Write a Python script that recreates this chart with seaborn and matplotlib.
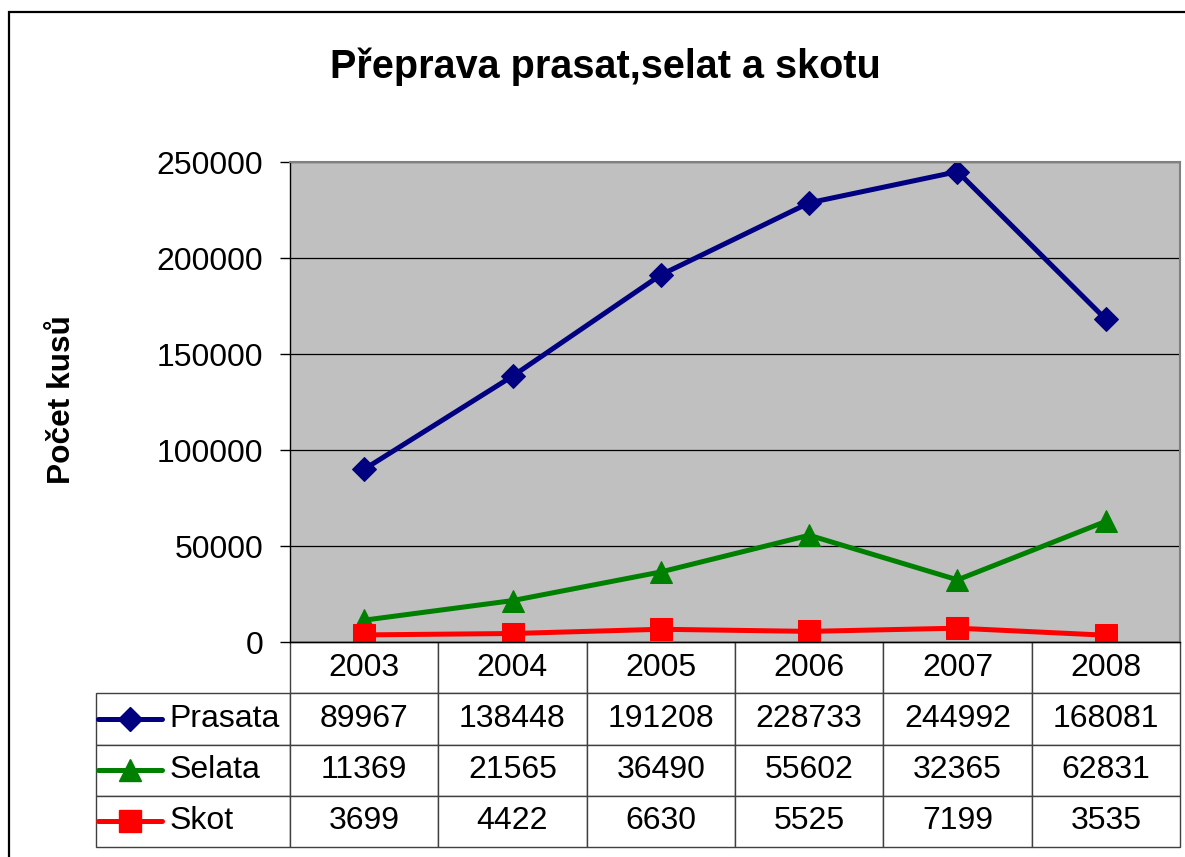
import numpy as np
import pandas as pd
import matplotlib
matplotlib.use('Agg')
import matplotlib.pyplot as plt
from matplotlib.lines import Line2D
from matplotlib.patches import Rectangle
import seaborn as sns

# data
years = ['2003', '2004', '2005', '2006', '2007', '2008']
series_names = ['Prasata', 'Selata', 'Skot']
prasata = [89967, 138448, 191208, 228733, 244992, 168081]
selata = [11369, 21565, 36490, 55602, 32365, 62831]
skot = [3699, 4422, 6630, 5525, 7199, 3535]

colors = {'Prasata': '#000080', 'Selata': '#008000', 'Skot': '#FF0000'}
markers = {'Prasata': 'D', 'Selata': '^', 'Skot': 's'}
msizes = {'Prasata': 12.5, 'Selata': 16, 'Skot': 16.5}

sns.set_style('white')
plt.rcParams['font.family'] = ['Liberation Sans', 'DejaVu Sans']
plt.rcParams['text.color'] = 'black'
plt.rcParams['ytick.color'] = 'black'
plt.rcParams['xtick.color'] = 'black'

rows = []
for name, vals in zip(series_names, [prasata, selata, skot]):
    for i, v in enumerate(vals):
        rows.append({'idx': i, 'value': v, 'series': name})
df = pd.DataFrame(rows)

W, H = 1185, 857
fig = plt.figure(figsize=(W / 100, H / 100), dpi=100)
ax = fig.add_axes([290 / W, 1 - 642 / H, 890 / W, 480 / H])
ax.set_facecolor('#C0C0C0')

for name in series_names:
    sub = df[df['series'] == name]
    sns.lineplot(data=sub, x='idx', y='value', ax=ax, color=colors[name],
                 marker=markers[name], markersize=msizes[name],
                 markeredgecolor=colors[name], linewidth=3.6, legend=False)

ax.set_xlim(-0.5, 5.5)
ax.set_ylim(0, 250000)
ax.set_yticks(np.arange(0, 250001, 50000))
ax.yaxis.grid(True, color='black', linewidth=0.9)
ax.set_axisbelow(True)
ax.set_xticks([])
ax.set_xlabel('')
ax.set_ylabel('')
ax.tick_params(axis='y', labelsize=23, length=7.2, width=1, direction='out', pad=12, left=True)
for s in ['top', 'right']:
    ax.spines[s].set_color('#808080')
    ax.spines[s].set_linewidth(1.5)
for s in ['left', 'bottom']:
    ax.spines[s].set_color('black')
    ax.spines[s].set_linewidth(1)

# data table below the plot (bbox covers the data grid, row labels sit to the left)
cell_text = [[str(v) for v in vals] for vals in [prasata, selata, skot]]
tbl_h = (847 - 642) / 480
rh = tbl_h / 4
tbl = ax.table(cellText=cell_text, rowLabels=series_names, colLabels=years,
               cellLoc='center', rowLoc='left',
               bbox=[0, -tbl_h, 1, tbl_h])
tbl.auto_set_font_size(False)
for (r, c), cell in tbl.get_celld().items():
    cell.set_edgecolor('#404040')
    cell.set_linewidth(1)
    cell.set_facecolor('white')
    cell.get_text().set_fontsize(23)
    if c == -1:
        cell.set_width(200 / 890)
        cell.PAD = 0.38
    else:
        cell.set_width(1 / 6)
    cell.set_height(rh)

# legend keys inside the row label cells
for i, name in enumerate(series_names):
    yc = -(i + 1.5) * rh
    ax.add_line(Line2D([(98 - 290) / 890, (162 - 290) / 890], [yc, yc],
                       transform=ax.transAxes, color=colors[name], linewidth=3.6,
                       clip_on=False, solid_capstyle='round', zorder=5))
    ax.add_line(Line2D([(130 - 290) / 890], [yc], transform=ax.transAxes,
                       color=colors[name], marker=markers[name],
                       markersize=msizes[name], markeredgecolor=colors[name],
                       linestyle='none', clip_on=False, zorder=6))

fig.text(605 / W, 1 - 67 / H, 'Přeprava prasat,selat a skotu', fontsize=28.5,
         fontweight='bold', ha='center', va='center')
fig.text(62 / W, 1 - 400 / H, 'Počet kusů', fontsize=22.8, fontweight='bold',
         rotation=90, ha='center', va='center')

fig.patches.append(Rectangle((9 / W, -0.1), 1.2, 1.1 - 12 / H, transform=fig.transFigure,
                             fill=False, edgecolor='black', linewidth=1.6))

fig.savefig('out.png', dpi=100)
